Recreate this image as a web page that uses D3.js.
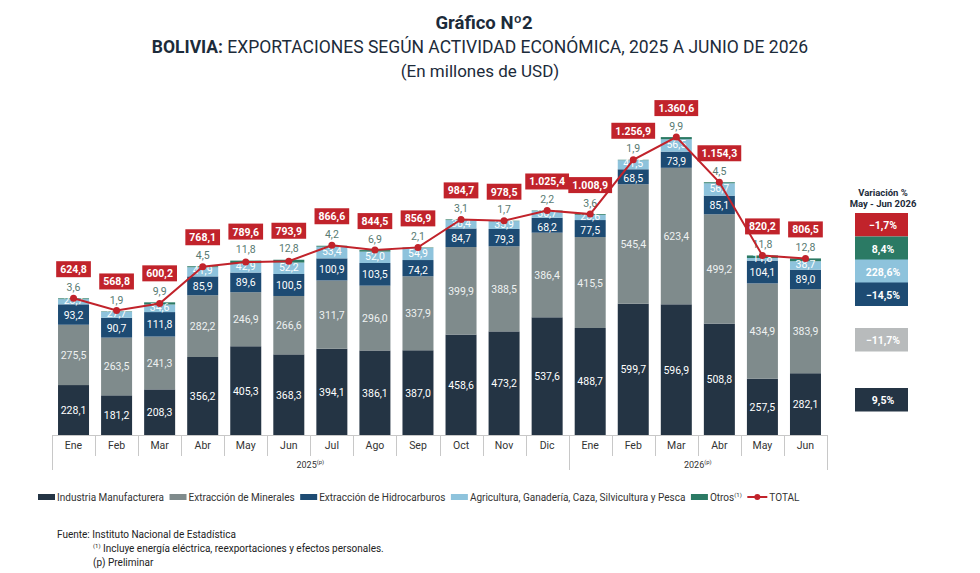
<!DOCTYPE html>
<html>
<head>
<meta charset="utf-8">
<script src="https://cdn.jsdelivr.net/npm/d3@7/dist/d3.min.js"></script>
<style>
  html, body { margin: 0; padding: 0; background: #fff; }
  svg { display: block; }
  text { font-family: Roboto, "Open Sans", sans-serif; }
</style>
</head>
<body>
<div id="chart"></div>
<script>
// datos del gráfico (millones de USD)
const months = ['Ene','Feb','Mar','Abr','May','Jun','Jul','Ago','Sep','Oct','Nov','Dic','Ene','Feb','Mar','Abr','May','Jun'];
const yearLabels = ['2025', '2026'];
const yearMonths = [12, 6];

const industria = [228.1,181.2,208.3,356.2,405.3,368.3,394.1,386.1,387.0,458.6,473.2,537.6,488.7,599.7,596.9,508.8,257.5,282.1];
const minerales = [275.5,263.5,241.3,282.2,246.9,266.6,311.7,296.0,337.9,399.9,388.5,386.4,415.5,545.4,623.4,499.2,434.9,383.9];
const hidrocarburos = [93.2,90.7,111.8,85.9,89.6,100.5,100.9,103.5,74.2,84.7,79.3,68.2,77.5,68.5,73.9,85.1,104.1,89.0];
const agricultura = [23.7,27.7,34.6,41.9,42.9,52.2,53.4,52.0,54.9,38.4,35.9,30.7,23.6,41.5,56.5,56.7,11.8,38.7];
const otros = [3.6,1.9,9.9,4.5,11.8,12.8,4.2,6.9,2.1,3.1,1.7,2.2,3.6,1.9,9.9,4.5,11.8,12.8];
const total = [624.8,568.8,600.2,768.1,789.6,793.9,866.6,844.5,856.9,984.7,978.5,1025.4,1008.9,1256.9,1360.6,1154.3,820.2,806.5];

// variación % may-jun 2026
const varLabels = ['TOTAL','Otros','Agricultura','Hidrocarburos','Minerales','Industria'];
const varValues = [-1.7, 8.4, 228.6, -14.5, -11.7, 9.5];

const seriesNames = ['Industria Manufacturera','Extracción de Minerales','Extracción de Hidrocarburos','Agricultura, Ganadería, Caza, Silvicultura y Pesca','Otros'];
const seriesData = [industria, minerales, hidrocarburos, agricultura, otros];
const colors = ['#243444', '#7f8b8c', '#1d4b73', '#8ec3dc', '#2b7a64'];
const red = '#c1232b';

const W = 980, H = 573;
const svg = d3.select('#chart').append('svg').attr('width', W).attr('height', H);

const loc = d3.formatLocale({ decimal: ',', thousands: '.', grouping: [3], currency: ['', ''] });
const fmt = loc.format(',.1f');

// títulos
const titles = svg.append('g').attr('fill', '#1c2b3a').attr('text-anchor', 'middle');
titles.append('text').attr('x', 484).attr('y', 29).attr('font-size', 18.5).attr('font-weight', 'bold').text('Gráfico Nº2');
const t2 = titles.append('text').attr('x', 480).attr('y', 53).attr('font-size', 17.5);
t2.append('tspan').attr('font-weight', 'bold').text('BOLIVIA:');
t2.append('tspan').text(' EXPORTACIONES SEGÚN ACTIVIDAD ECONÓMICA, 2025 A JUNIO DE 2026');
titles.append('text').attr('x', 480).attr('y', 77).attr('font-size', 17).text('(En millones de USD)');

// escalas
const x = d3.scaleBand().domain(d3.range(months.length)).range([52, 827]).paddingInner(0.28).paddingOuter(0.14);
const y = d3.scaleLinear().domain([0, 1530]).range([435, 100]);

const stacked = d3.stack().keys(d3.range(seriesData.length)).value((i, k) => seriesData[k][i])(d3.range(months.length));

const bars = svg.append('g');
stacked.forEach((layer, k) => {
  bars.selectAll(null).data(layer).enter().append('rect')
    .attr('x', (d, i) => x(i))
    .attr('width', x.bandwidth())
    .attr('y', d => y(d[1]))
    .attr('height', d => y(d[0]) - y(d[1]))
    .attr('fill', colors[k]);
});

// etiquetas de segmentos (ajuste leve en segmentos delgados)
const segLabels = svg.append('g').attr('text-anchor', 'middle').attr('font-size', 10.5).attr('fill', '#fff');
stacked.slice(0, 4).forEach((layer, k) => {
  segLabels.selectAll(null).data(layer).enter().append('text')
    .attr('x', (d, i) => x(i) + x.bandwidth() / 2)
    .attr('y', d => {
      const h = y(d[0]) - y(d[1]);
      let dy = 4;
      if (k === 3) dy = 2.5;
      if (k === 2 && h < 18) dy = 5.5;
      return (y(d[0]) + y(d[1])) / 2 + dy;
    })
    .attr('fill', k === 1 ? '#eef1f1' : '#fff')
    .text((d, i) => fmt(seriesData[k][i]));
});
// otros encima de la barra
svg.append('g').attr('text-anchor', 'middle').attr('font-size', 10.5).attr('fill', '#587a72')
  .selectAll('text').data(stacked[4]).enter().append('text')
  .attr('x', (d, i) => x(i) + x.bandwidth() / 2)
  .attr('y', d => y(d[1]) - 7.5)
  .text((d, i) => fmt(otros[i]));

// eje de categorías
const axisG = svg.append('g').attr('transform', 'translate(0,435)')
  .call(d3.axisBottom(x).tickSize(0).tickPadding(7).tickFormat(i => months[i]));
axisG.select('.domain').remove();
axisG.selectAll('text').attr('font-size', 10.5).attr('fill', '#333')
  .style('font-family', 'Roboto, "Open Sans", sans-serif');

const grid = svg.append('g').attr('stroke', '#c8c8c8').attr('stroke-width', 1);
grid.append('line').attr('x1', 52).attr('x2', 827).attr('y1', 435.5).attr('y2', 435.5);
const yearStarts = [0];
yearMonths.forEach((n, i) => yearStarts.push(yearStarts[i] + n));
d3.range(months.length + 1).forEach(i => {
  const xx = Math.round(52 + i * x.step()) + 0.5;
  const isYear = yearStarts.includes(i);
  grid.append('line').attr('x1', xx).attr('x2', xx).attr('y1', 435).attr('y2', isYear ? 470 : 456);
});
yearLabels.forEach((lab, i) => {
  const cx = 52 + (yearStarts[i] + yearMonths[i] / 2) * x.step();
  const t = svg.append('text').attr('x', cx).attr('y', 468).attr('text-anchor', 'middle').attr('font-size', 9).attr('fill', '#333');
  t.append('tspan').text(lab);
  t.append('tspan').attr('font-size', 6).attr('dy', -4).text('(p)');
});

// línea total
const cx = i => x(i) + x.bandwidth() / 2;
svg.append('path').datum(total)
  .attr('fill', 'none').attr('stroke', red).attr('stroke-width', 2)
  .attr('d', d3.line().x((d, i) => cx(i)).y(d => y(d)));
svg.append('g').selectAll('circle').data(total).enter().append('circle')
  .attr('cx', (d, i) => cx(i)).attr('cy', d => y(d)).attr('r', 3.5).attr('fill', red);

// etiquetas total
const totG = svg.append('g');
total.forEach((v, i) => {
  const top = Math.min(y(v), y(stacked[4][i][1]));
  const cy = top - 29;
  const rect = totG.append('rect').attr('y', cy - 8).attr('height', 16).attr('fill', red);
  const t = totG.append('text').attr('x', cx(i)).attr('y', cy + 4).attr('text-anchor', 'middle')
    .attr('font-size', 10.5).attr('font-weight', 'bold').attr('fill', '#fff').text(fmt(v));
  const w = t.node().getComputedTextLength() + 8;
  rect.attr('x', cx(i) - w / 2).attr('width', w);
});

// panel de variación
const panel = svg.append('g');
panel.append('text').attr('x', 883).attr('y', 196).attr('text-anchor', 'middle').attr('font-size', 9.5).attr('font-weight', 'bold').attr('fill', '#1c2b3a').text('Variación %');
panel.append('text').attr('x', 883).attr('y', 207).attr('text-anchor', 'middle').attr('font-size', 9.5).attr('font-weight', 'bold').attr('fill', '#1c2b3a').text('May - Jun 2026');
const varColors = [red, colors[4], colors[3], colors[2], '#b8bbbc', colors[0]];
const varTops = [213, 236.5, 259.5, 282.5, 328, 388];
const pctFmt = v => loc.format('.1f')(v) + '%';
varValues.forEach((v, i) => {
  panel.append('rect').attr('x', 855).attr('y', varTops[i]).attr('width', 53).attr('height', 23.5).attr('fill', varColors[i]);
  panel.append('text').attr('x', 883).attr('y', varTops[i] + 16).attr('text-anchor', 'middle')
    .attr('font-size', 10.5).attr('font-weight', 'bold').attr('fill', '#fff').text(pctFmt(v));
});

// leyenda: elementos uno tras otro entre x=38 y x=800
const leg = svg.append('g').attr('font-size', 10).attr('fill', '#333');
const legItems = [];
seriesNames.forEach((name, k) => {
  const gi = leg.append('g');
  gi.append('rect').attr('x', 0).attr('y', 494).attr('width', 17).attr('height', 6).attr('fill', colors[k]);
  const t = gi.append('text').attr('x', 19).attr('y', 501);
  t.append('tspan').text(name);
  if (k === 4) t.append('tspan').attr('font-size', 6).attr('dy', -4).text('(1)');
  legItems.push(gi);
});
const gTot = leg.append('g');
gTot.append('line').attr('x1', 0).attr('x2', 20).attr('y1', 497).attr('y2', 497).attr('stroke', red).attr('stroke-width', 2);
gTot.append('circle').attr('cx', 10).attr('cy', 497).attr('r', 3).attr('fill', red);
gTot.append('text').attr('x', 22).attr('y', 501).text('TOTAL');
legItems.push(gTot);
const widths = legItems.map(g => g.node().getBBox().width);
const gap = (800 - 38 - d3.sum(widths)) / (legItems.length - 1);
let lx = 38;
legItems.forEach((g, k) => { g.attr('transform', `translate(${lx},0)`); lx += widths[k] + gap; });

// fuente
const foot = svg.append('g').attr('font-size', 10).attr('fill', '#222');
foot.append('text').attr('x', 57).attr('y', 538).text('Fuente: Instituto Nacional de Estadística');
const f2 = foot.append('text').attr('x', 93).attr('y', 552);
f2.append('tspan').attr('font-size', 6).attr('dy', -4).text('(1)');
f2.append('tspan').attr('dy', 4).text(' Incluye energía eléctrica, reexportaciones y efectos personales.');
foot.append('text').attr('x', 93).attr('y', 566).text('(p) Preliminar');
</script>
</body>
</html>
